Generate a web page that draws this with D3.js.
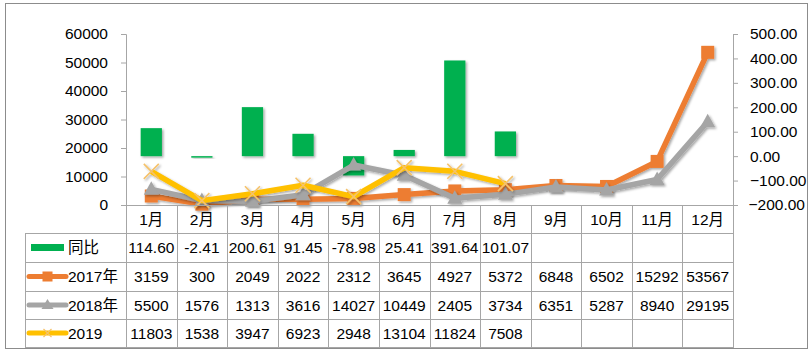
<!DOCTYPE html>
<html>
<head>
<meta charset="utf-8">
<script src="https://cdn.jsdelivr.net/npm/d3@7"></script>
<style>
  body { margin: 0; background: #fff; }
  svg text { font-family: "Liberation Sans", "Noto Sans CJK SC", sans-serif; fill: #000; }
</style>
</head>
<body>
<svg id="chart" width="811" height="351"></svg>
<script>
const months = ['1月','2月','3月','4月','5月','6月','7月','8月','9月','10月','11月','12月'];
const yoy = [114.60, -2.41, 200.61, 91.45, -78.98, 25.41, 391.64, 101.07];
const yoyText = ['114.60','-2.41','200.61','91.45','-78.98','25.41','391.64','101.07'];
const s2017 = [3159, 300, 2049, 2022, 2312, 3645, 4927, 5372, 6848, 6502, 15292, 53567];
const s2018 = [5500, 1576, 1313, 3616, 14027, 10449, 2405, 3734, 6351, 5287, 8940, 29195];
const s2019 = [11803, 1538, 3947, 6923, 2948, 13104, 11824, 7508];
const leftTicks = [0, 10000, 20000, 30000, 40000, 50000, 60000];
const rightTicks = [-200, -100, 0, 100, 200, 300, 400, 500];

const svg = d3.select('#chart');
const plot = {left: 126, right: 733, top: 34, bottom: 205};
const rowH = [205, 233, 262, 291, 319, 347];
const tableLeft = 25;

const defs = svg.append('defs');
const f = defs.append('filter').attr('id', 'shadow')
    .attr('x', '-30%').attr('y', '-30%').attr('width', '160%').attr('height', '160%');
f.append('feDropShadow').attr('dx', 1.5).attr('dy', 1.5).attr('stdDeviation', 1.2)
    .attr('flood-color', '#000').attr('flood-opacity', 0.35);

// chart border
svg.append('rect').attr('x', 5.5).attr('y', 3.5).attr('width', 802).attr('height', 345)
    .attr('fill', 'none').attr('stroke', '#8c8c8c');

const x = d3.scaleBand().domain(months).range([plot.left, plot.right]).padding(0);
const yL = d3.scaleLinear().domain([0, 60000]).range([plot.bottom, plot.top]);
const yR = d3.scaleLinear().domain([-200, 500]).range([plot.bottom, plot.top]);

// left axis
const axL = svg.append('g').attr('transform', 'translate(' + plot.left + ',0)')
    .call(d3.axisLeft(yL).tickValues(leftTicks).tickSize(5).tickPadding(13).tickFormat(d3.format('d')));
axL.select('.domain').attr('stroke', '#a6a6a6');
axL.selectAll('.tick line').attr('stroke', '#a6a6a6');
axL.selectAll('text').style('font-size', '15.5px').attr('fill', '#000');

// right axis
const axR = svg.append('g').attr('transform', 'translate(' + plot.right + ',0)')
    .call(d3.axisRight(yR).tickValues(rightTicks).tickSize(5).tickPadding(12).tickFormat(d3.format('.2f')));
axR.select('.domain').attr('stroke', '#a6a6a6');
axR.selectAll('.tick line').attr('stroke', '#a6a6a6');
axR.selectAll('text').style('font-size', '15.5px').attr('fill', '#000')
    .attr('text-anchor', 'start').attr('x', 17)
    .each(function(d) {
      if (d === -200) d3.select(this).attr('text-anchor', 'end').attr('x', 72);
    });

// bars
svg.append('g').selectAll('rect').data(yoy).join('rect')
    .attr('x', (d, i) => x(months[i]) + x.bandwidth() * 0.29)
    .attr('width', x.bandwidth() * 0.42)
    .attr('y', d => Math.min(yR(d), yR(0)))
    .attr('height', d => Math.max(1.5, Math.abs(yR(d) - yR(0))))
    .attr('fill', '#00b050')
    .attr('filter', 'url(#shadow)');

const cx = i => x(months[i]) + x.bandwidth() / 2;
const line = d3.line().x((d, i) => cx(i)).y(d => yL(d));

function drawSeries(data, color, marker) {
  const g = svg.append('g').attr('filter', 'url(#shadow)');
  g.append('path').datum(data).attr('d', line)
      .attr('fill', 'none').attr('stroke', color).attr('stroke-width', 5.5)
      .attr('stroke-linejoin', 'round');
  const m = g.selectAll('.m').data(data).join('g')
      .attr('transform', (d, i) => 'translate(' + cx(i) + ',' + yL(d) + ')');
  if (marker === 'square') {
    m.append('rect').attr('x', -6.5).attr('y', -6.5).attr('width', 13).attr('height', 13).attr('fill', color);
  } else if (marker === 'triangle') {
    m.append('path').attr('d', 'M0,-8L7.5,5.5L-7.5,5.5Z').attr('fill', color);
  } else {
    m.append('path').attr('d', 'M-7.5,-7.5L7.5,7.5M-7.5,7.5L7.5,-7.5')
        .attr('stroke', '#f5c26b').attr('stroke-width', 1.6).attr('fill', 'none');
  }
}
drawSeries(s2017, '#ed7d31', 'square');
drawSeries(s2018, '#a5a5a5', 'triangle');
drawSeries(s2019, '#ffc000', 'x');

// data table
const grid = svg.append('g').attr('stroke', '#a6a6a6').attr('stroke-width', 1);
rowH.slice(1).forEach(y => {
  grid.append('line').attr('x1', tableLeft).attr('x2', plot.right + 1).attr('y1', y + 0.5).attr('y2', y + 0.5);
});
grid.append('line').attr('x1', plot.left).attr('x2', plot.right).attr('y1', rowH[0] + 0.5).attr('y2', rowH[0] + 0.5);
grid.append('line').attr('x1', tableLeft + 0.5).attr('x2', tableLeft + 0.5).attr('y1', rowH[1]).attr('y2', rowH[5]);
months.forEach(m => {
  const xx = Math.round(x(m)) + 0.5;
  grid.append('line').attr('x1', xx).attr('x2', xx).attr('y1', rowH[0]).attr('y2', rowH[5]);
});
grid.append('line').attr('x1', plot.right + 0.5).attr('x2', plot.right + 0.5).attr('y1', rowH[0]).attr('y2', rowH[5]);

const midY = k => (rowH[k] + rowH[k + 1]) / 2;
const tbl = svg.append('g').style('font-size', '15.5px');
tbl.selectAll('.hdr').data(months).join('text')
    .attr('x', d => x(d) + x.bandwidth() / 2).attr('y', midY(0))
    .attr('text-anchor', 'middle').attr('dominant-baseline', 'central').text(d => d);

const rows = [
  {label: '同比', vals: yoyText},
  {label: '2017年', vals: s2017.map(String)},
  {label: '2018年', vals: s2018.map(String)},
  {label: '2019', vals: s2019.map(String)}
];
rows.forEach((r, k) => {
  tbl.selectAll('.r' + k).data(r.vals).join('text')
      .attr('x', (d, i) => cx(i)).attr('y', midY(k + 1))
      .attr('text-anchor', 'middle').attr('dominant-baseline', 'central').text(d => d);
  tbl.append('text').attr('x', 68).attr('y', midY(k + 1))
      .attr('dominant-baseline', 'central').text(r.label);
});

// legend keys
const kx1 = 29, kx2 = 66, kmid = 47.5;
svg.append('rect').attr('x', 31).attr('y', midY(1) - 3.5).attr('width', 33).attr('height', 7).attr('fill', '#00b050');
[['#ed7d31', 'square'], ['#a5a5a5', 'triangle'], ['#ffc000', 'x']].forEach(([c, mk], k) => {
  const y = midY(k + 2);
  const g = svg.append('g');
  g.append('line').attr('x1', kx1).attr('x2', kx2).attr('y1', y).attr('y2', y)
      .attr('stroke', c).attr('stroke-width', 5).attr('stroke-linecap', 'round');
  if (mk === 'square') g.append('rect').attr('x', kmid - 5).attr('y', y - 5).attr('width', 10).attr('height', 10).attr('fill', c);
  else if (mk === 'triangle') g.append('path').attr('d', 'M' + kmid + ',' + (y - 6) + 'l6,10l-12,0Z').attr('fill', c);
  else g.append('path').attr('d', 'M' + (kmid - 4) + ',' + (y - 4) + 'l8,8M' + (kmid - 4) + ',' + (y + 4) + 'l8,-8')
      .attr('stroke', '#f5c26b').attr('stroke-width', 1.2);
});
</script>
</body>
</html>
